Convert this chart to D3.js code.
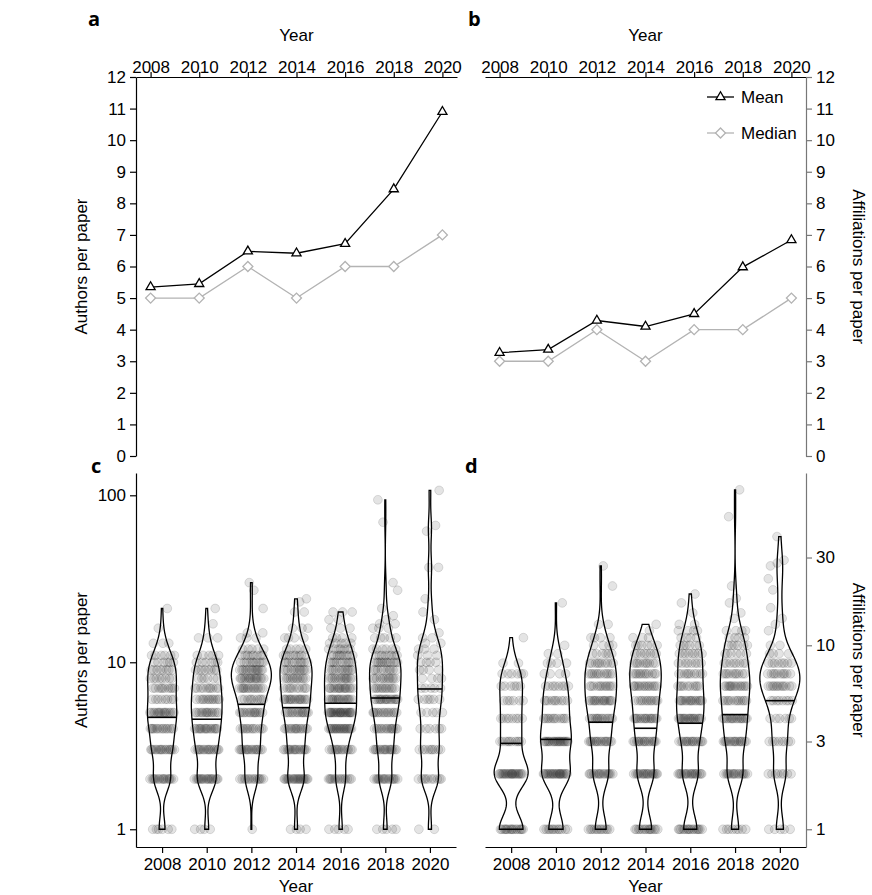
<!DOCTYPE html>
<html>
<head>
<meta charset="utf-8">
<script src="https://cdn.jsdelivr.net/npm/d3@7"></script>
<style>
  body { margin: 0; background: #fff; }
  svg { display: block; }
</style>
</head>
<body>
<svg id="chart" width="872" height="895"></svg>
<script>
// values
var years = [2008, 2010, 2012, 2014, 2016, 2018, 2020];

var authorsMean   = [5.35, 5.45, 6.48, 6.42, 6.72, 8.45, 10.9];
var authorsMedian = [5, 5, 6, 5, 6, 6, 7];
var affilMean     = [3.27, 3.37, 4.29, 4.1, 4.5, 5.98, 6.84];
var affilMedian   = [3, 3, 4, 3, 4, 4, 5];

var linearTicks = [0, 1, 2, 3, 4, 5, 6, 7, 8, 9, 10, 11, 12];
var authorsLogTicks = [1, 10, 100];
var affilLogTicks = [1, 3, 10, 30];

// centre line of each violin (geometric mean)
var authorsCentre = [4.68, 4.56, 5.6, 5.35, 5.68, 6.11, 6.92];
var affilCentre   = [2.93, 3.08, 3.82, 3.54, 3.77, 4.2, 5.0];

// papers per value, one list per year: [value, number of papers]
var authorsCounts = [
  [[1,6],[2,16],[3,16],[4,14],[5,16],[6,8],[7,10],[8,8],[9,8],[10,6],[11,6],[13,3],[16,1],[21,1]],
  [[1,4],[2,18],[3,16],[4,16],[5,14],[6,12],[7,10],[8,6],[9,8],[10,6],[11,5],[14,3],[17,1],[21,1]],
  [[1,1],[2,14],[3,16],[4,12],[5,14],[6,10],[7,14],[8,16],[9,14],[10,10],[11,8],[12,5],[14,3],[15,2],[21,1],[27,1],[30,1]],
  [[1,4],[2,20],[3,16],[4,14],[5,14],[6,16],[7,10],[8,12],[9,12],[10,10],[11,8],[12,5],[14,4],[16,3],[20,2],[23,1],[24,1]],
  [[1,5],[2,14],[3,14],[4,20],[5,24],[6,16],[7,16],[8,14],[9,12],[10,10],[11,9],[12,7],[13,5],[14,4],[16,3],[18,2],[20,3]],
  [[1,5],[2,16],[3,16],[4,14],[5,14],[6,16],[7,12],[8,12],[9,10],[10,12],[11,8],[12,6],[14,5],[16,3],[17,2],[18,1],[19,1],[21,1],[27,1],[30,1],[69,1],[94,1]],
  [[1,2],[2,10],[3,9],[4,6],[5,5],[6,6],[7,5],[8,4],[9,4],[10,4],[11,3],[12,3],[13,2],[14,2],[15,1],[18,1],[20,1],[24,1],[37,2],[61,1],[66,1],[107,1]]
];

var affilCounts = [
  [[1,16],[2,22],[3,10],[4,8],[5,6],[6,6],[7,6],[8,2],[11,1]],
  [[1,12],[2,22],[3,20],[4,12],[5,10],[6,8],[7,4],[8,4],[9,2],[10,1],[17,1]],
  [[1,12],[2,16],[3,16],[4,14],[5,16],[6,12],[7,12],[8,10],[9,6],[10,4],[11,4],[13,2],[21,1],[27,1]],
  [[1,14],[2,18],[3,16],[4,16],[5,12],[6,14],[7,12],[8,10],[9,8],[10,6],[11,3],[12,1],[13,1]],
  [[1,16],[2,18],[3,16],[4,18],[5,16],[6,10],[7,10],[8,8],[9,8],[10,6],[11,4],[12,4],[13,2],[15,1],[17,1],[19,1]],
  [[1,8],[2,16],[3,16],[4,16],[5,12],[6,14],[7,10],[8,8],[9,6],[10,6],[11,4],[12,4],[14,1],[15,1],[17,1],[18,1],[21,1],[50,1],[70,1]],
  [[1,5],[2,8],[3,8],[4,6],[5,8],[6,12],[7,10],[8,8],[9,4],[10,2],[12,1],[13,1],[14,1],[16,1],[20,1],[23,1],[27,1],[28,1],[29,1],[39,1]]
];

var font = "'Liberation Sans', Arial, Helvetica, sans-serif";
var svg = d3.select("#chart");

// scales
var xTopA = d3.scaleLinear().domain([2007.4, 2020.6]).range([136, 457]);
var xTopB = d3.scaleLinear().domain([2007.4, 2020.6]).range([485, 806]);
var yTop = d3.scaleLinear().domain([0, 12]).range([456, 77]);

var xBotC = d3.scalePoint().domain(years).range([136, 456]).padding(0.584);
var xBotD = d3.scalePoint().domain(years).range([485, 806]).padding(0.584);
var yC = d3.scaleLog().domain([0.783, 136]).range([847, 473]);
var yD = d3.scaleLog().domain([0.801, 86.4]).range([847, 473]);

function styleAxis(g, col) {
  g.attr("font-family", font).attr("font-size", 17);
  g.selectAll(".domain, .tick line").attr("stroke", col).attr("stroke-width", 1.2);
  g.selectAll(".tick text").attr("fill", "#000");
}

// top axes
svg.append("g").attr("transform", "translate(0,77)")
   .call(d3.axisTop(xTopA).tickValues(years).tickFormat(d3.format("d")).tickSize(5).tickSizeOuter(0).tickPadding(-1))
   .call(styleAxis, "#000");
svg.append("g").attr("transform", "translate(0,77)")
   .call(d3.axisTop(xTopB).tickValues(years).tickFormat(d3.format("d")).tickSize(5).tickSizeOuter(0).tickPadding(-1))
   .call(styleAxis, "#000");

svg.append("g").attr("transform", "translate(136,0)")
   .call(d3.axisLeft(yTop).tickValues(linearTicks).tickSize(6).tickSizeOuter(0).tickPadding(4))
   .call(styleAxis, "#000");
svg.append("g").attr("transform", "translate(806,0)")
   .call(d3.axisRight(yTop).tickValues(linearTicks).tickSize(6).tickSizeOuter(0).tickPadding(4))
   .call(styleAxis, "#777");

// bottom axes
svg.append("g").attr("transform", "translate(0,847)")
   .call(d3.axisBottom(xBotC).tickSize(6).tickSizeOuter(0).tickPadding(5))
   .call(styleAxis, "#000");
svg.append("g").attr("transform", "translate(0,847)")
   .call(d3.axisBottom(xBotD).tickSize(6).tickSizeOuter(0).tickPadding(5))
   .call(styleAxis, "#000");

svg.append("g").attr("transform", "translate(136,0)")
   .call(d3.axisLeft(yC).tickValues(authorsLogTicks).tickFormat(d3.format("d")).tickSize(6).tickSizeOuter(0).tickPadding(4))
   .call(styleAxis, "#000");
svg.append("g").attr("transform", "translate(806,0)")
   .call(d3.axisRight(yD).tickValues(affilLogTicks).tickFormat(d3.format("d")).tickSize(6).tickSizeOuter(0).tickPadding(4))
   .call(styleAxis, "#777");

// axis titles
function label(txt, x, y, rot) {
  svg.append("text")
     .attr("transform", "translate(" + x + "," + y + ")" + (rot ? " rotate(" + rot + ")" : ""))
     .attr("text-anchor", "middle")
     .attr("font-family", font).attr("font-size", 17)
     .text(txt);
}
label("Year", 296.5, 41);
label("Year", 645.5, 41);
label("Year", 296, 892);
label("Year", 645.5, 892);
label("Authors per paper", 87, 266.5, -90);
label("Authors per paper", 87, 660, -90);
label("Affiliations per paper", 853, 266.5, 90);
label("Affiliations per paper", 853, 660, 90);

// panel letters
[["a", 88, 26], ["b", 468, 26], ["c", 91, 473], ["d", 465, 473]].forEach(function(p) {
  svg.append("text").attr("x", p[1]).attr("y", p[2])
     .attr("font-family", "'Open Sans', 'Liberation Sans', sans-serif")
     .attr("font-weight", 700).attr("font-size", 20)
     .text(p[0]);
});

// line panels
var triangle = d3.symbol(d3.symbolTriangle, 36)();
var diamond = d3.symbol(d3.symbolSquare, 50)();

function drawSeries(x, vals, col, shape, rot) {
  var line = d3.line().x(function(d, i) { return x(years[i]); }).y(function(d) { return yTop(d); });
  svg.append("path").datum(vals)
     .attr("d", line).attr("fill", "none").attr("stroke", col).attr("stroke-width", 1.3);
  svg.selectAll(null).data(vals).enter().append("path")
     .attr("d", shape)
     .attr("transform", function(d, i) { return "translate(" + x(years[i]) + "," + yTop(d) + ") rotate(" + rot + ")"; })
     .attr("fill", "#fff").attr("stroke", col).attr("stroke-width", 1.3);
}
drawSeries(xTopA, authorsMedian, "#b3b3b3", diamond, 45);
drawSeries(xTopA, authorsMean, "#000", triangle, 0);
drawSeries(xTopB, affilMedian, "#b3b3b3", diamond, 45);
drawSeries(xTopB, affilMean, "#000", triangle, 0);

// legend
[["Mean", 97, "#000", triangle, 0], ["Median", 133, "#b3b3b3", diamond, 45]].forEach(function(l) {
  svg.append("line").attr("x1", 707).attr("x2", 734).attr("y1", l[1]).attr("y2", l[1])
     .attr("stroke", l[2]).attr("stroke-width", 1.3);
  svg.append("path").attr("d", l[3])
     .attr("transform", "translate(720.5," + l[1] + ") rotate(" + l[4] + ")")
     .attr("fill", "#fff").attr("stroke", l[2]).attr("stroke-width", 1.3);
  svg.append("text").attr("x", 741).attr("y", l[1]).attr("dy", "0.35em")
     .attr("font-family", font).attr("font-size", 17).text(l[0]);
});

// violins
var bw = 0.08;
function density(pairs, t) {
  var n = d3.sum(pairs, function(p) { return p[1]; });
  return d3.sum(pairs, function(p) {
    var u = (t - Math.log10(p[0])) / bw;
    return p[1] * Math.exp(-0.5 * u * u);
  }) / (n * bw * Math.sqrt(2 * Math.PI));
}
function profile(pairs) {
  var lo = Math.log10(d3.min(pairs, function(p) { return p[0]; }));
  var hi = Math.log10(d3.max(pairs, function(p) { return p[0]; }));
  return d3.range(0, 301).map(function(i) {
    var t = lo + (hi - lo) * i / 300;
    return [t, density(pairs, t)];
  });
}

function drawViolins(counts, centre, x, y) {
  var profiles = counts.map(profile);
  var maxD = d3.max(profiles, function(p) { return d3.max(p, function(d) { return d[1]; }); });
  var w = d3.scaleLinear().domain([0, maxD]).range([0, 20]);
  var g = svg.append("g");

  counts.forEach(function(pairs, i) {
    var cx = x(years[i]);
    var dots = [];
    pairs.forEach(function(p) {
      for (var k = 0; k < p[1]; k++) {
        var f = (k * 0.618034 + p[0] * 0.2718 + i * 0.131) % 1;
        dots.push({ v: p[0], dx: (f - 0.5) * 25 });
      }
    });
    g.selectAll(null).data(dots).enter().append("circle")
     .attr("cx", function(d) { return cx + d.dx; })
     .attr("cy", function(d) { return y(d.v); })
     .attr("r", 4.4)
     .attr("fill", "#000").attr("fill-opacity", 0.105)
     .attr("stroke", "#000").attr("stroke-opacity", 0.12).attr("stroke-width", 1);
  });

  profiles.forEach(function(prof, i) {
    var cx = x(years[i]);
    var area = d3.area()
      .y(function(d) { return y(Math.pow(10, d[0])); })
      .x0(function(d) { return cx - w(d[1]); })
      .x1(function(d) { return cx + w(d[1]); });
    g.append("path").datum(prof).attr("d", area)
     .attr("fill", "none").attr("stroke", "#000").attr("stroke-width", 1.3);
    var hw = w(density(counts[i], Math.log10(centre[i])));
    g.append("line")
     .attr("x1", cx - hw).attr("x2", cx + hw)
     .attr("y1", y(centre[i])).attr("y2", y(centre[i]))
     .attr("stroke", "#000").attr("stroke-width", 1.6);
  });
}
drawViolins(authorsCounts, authorsCentre, xBotC, yC);
drawViolins(affilCounts, affilCentre, xBotD, yD);
</script>
</body>
</html>
